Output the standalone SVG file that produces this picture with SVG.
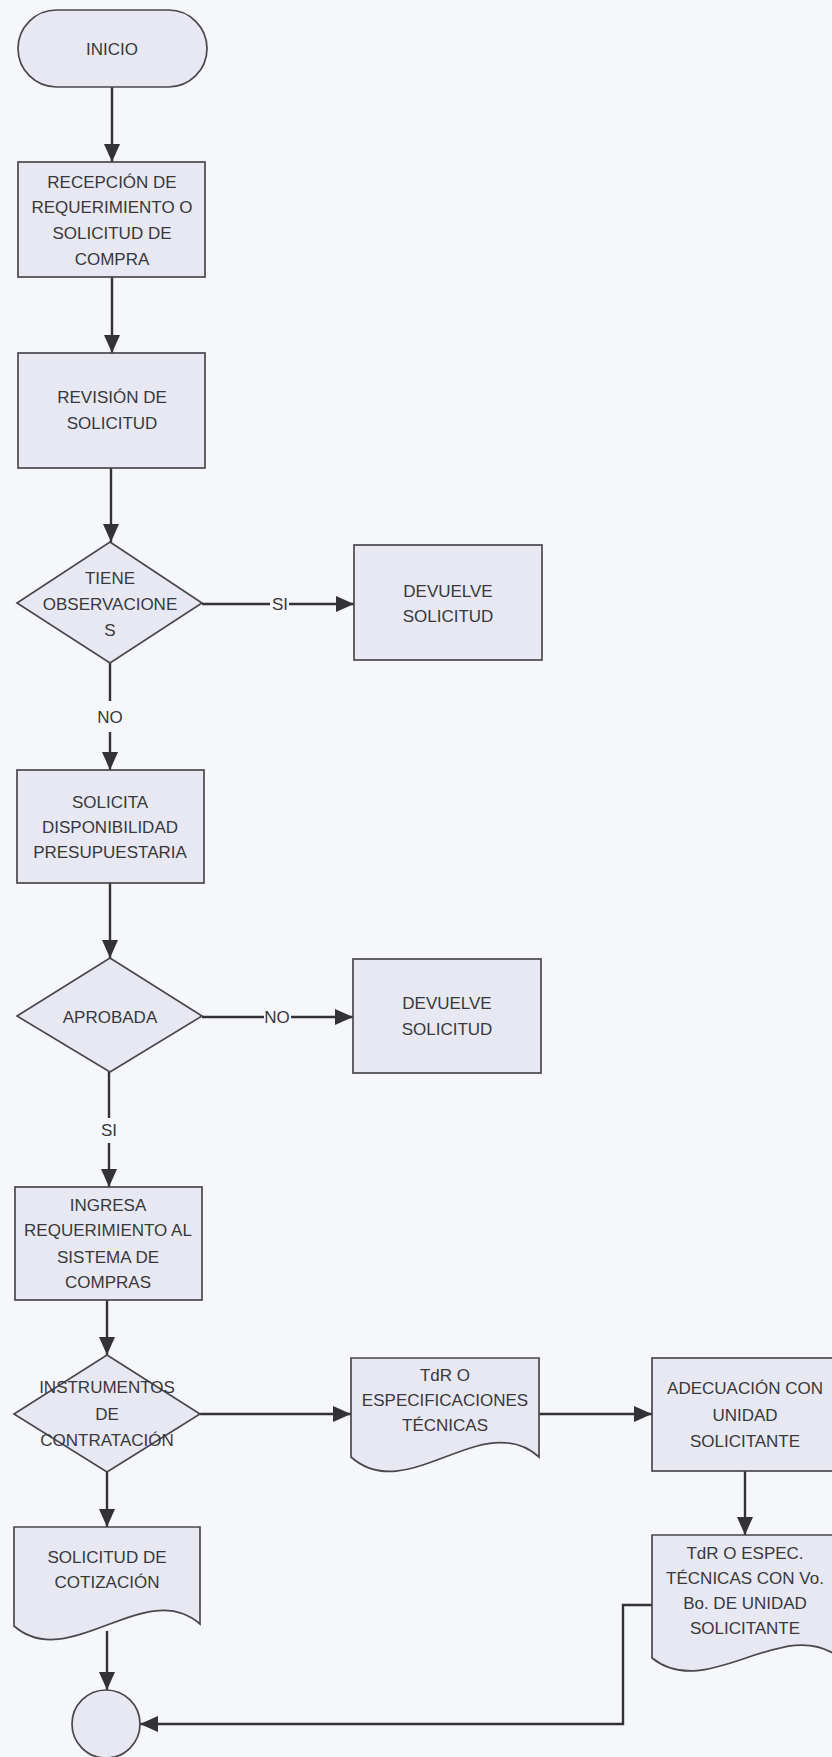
<svg xmlns="http://www.w3.org/2000/svg" width="832" height="1757" viewBox="0 0 832 1757">
  <style>
    .shape { fill: #e7e8f1; stroke: #48484d; stroke-width: 1.7; }
    .lbl { font-family: "Liberation Sans", Arial, sans-serif; font-size: 17px; fill: #38383c; text-anchor: middle; }
    .wire { fill: none; stroke: #333336; stroke-width: 2.4; }
    .arrow { marker-end: url(#head); }
  </style>
  <defs>
    <marker id="head" markerUnits="userSpaceOnUse" markerWidth="18" markerHeight="16" viewBox="0 0 18 16" refX="18" refY="8" orient="auto">
      <path d="M0,0 L18,8 L0,16 Z" fill="#333336"/>
    </marker>
  </defs>

  <rect x="0" y="0" width="832" height="1757" fill="#f6f7fb"/>

  <!-- connectors -->
  <g id="connectors">
    <line class="wire arrow" x1="112" y1="87" x2="112" y2="162"/>
    <line class="wire arrow" x1="112" y1="277" x2="112" y2="353"/>
    <line class="wire arrow" x1="111" y1="468" x2="111" y2="542"/>
    <!-- TIENE OBSERVACIONES: SI -->
    <line class="wire" x1="202" y1="604" x2="270" y2="604"/>
    <line class="wire arrow" x1="289" y1="604" x2="354" y2="604"/>
    <text class="lbl" x="280" y="610">SI</text>
    <!-- TIENE OBSERVACIONES: NO -->
    <line class="wire" x1="110" y1="663" x2="110" y2="701"/>
    <line class="wire arrow" x1="110" y1="732" x2="110" y2="770"/>
    <text class="lbl" x="110" y="723">NO</text>
    <line class="wire arrow" x1="110" y1="883" x2="110" y2="958"/>
    <!-- APROBADA: NO -->
    <line class="wire" x1="202" y1="1017" x2="264" y2="1017"/>
    <line class="wire arrow" x1="291" y1="1017" x2="353" y2="1017"/>
    <text class="lbl" x="277" y="1023">NO</text>
    <!-- APROBADA: SI -->
    <line class="wire" x1="109" y1="1072" x2="109" y2="1118"/>
    <line class="wire arrow" x1="109" y1="1143" x2="109" y2="1187"/>
    <text class="lbl" x="109" y="1136">SI</text>
    <line class="wire arrow" x1="107" y1="1300" x2="107" y2="1355"/>
    <line class="wire arrow" x1="200" y1="1414" x2="351" y2="1414"/>
    <line class="wire arrow" x1="539" y1="1414" x2="652" y2="1414"/>
    <line class="wire arrow" x1="745" y1="1471" x2="745" y2="1535"/>
    <line class="wire arrow" x1="107" y1="1472" x2="107" y2="1527"/>
    <line class="wire arrow" x1="107" y1="1631" x2="107" y2="1690"/>
    <polyline class="wire arrow" points="652,1605 623,1605 623,1724 140,1724"/>
  </g>

  <g id="inicio">
    <rect class="shape" x="18" y="10" width="189" height="77" rx="38.5"/>
    <text class="lbl" x="112" y="55">INICIO</text>
  </g>

  <g id="recepcion">
    <rect class="shape" x="18" y="162" width="187" height="115"/>
    <text class="lbl" x="112" y="188">RECEPCIÓN DE</text>
    <text class="lbl" x="112" y="213">REQUERIMIENTO O</text>
    <text class="lbl" x="112" y="239">SOLICITUD DE</text>
    <text class="lbl" x="112" y="265">COMPRA</text>
  </g>

  <g id="revision">
    <rect class="shape" x="18" y="353" width="187" height="115"/>
    <text class="lbl" x="112" y="403">REVISIÓN DE</text>
    <text class="lbl" x="112" y="429">SOLICITUD</text>
  </g>

  <g id="tiene-observaciones">
    <polygon class="shape" points="110,542 202,603 110,663 17,603"/>
    <text class="lbl" x="110" y="584">TIENE</text>
    <text class="lbl" x="110" y="610">OBSERVACIONE</text>
    <text class="lbl" x="110" y="636">S</text>
  </g>

  <g id="devuelve-1">
    <rect class="shape" x="354" y="545" width="188" height="115"/>
    <text class="lbl" x="448" y="597">DEVUELVE</text>
    <text class="lbl" x="448" y="622">SOLICITUD</text>
  </g>

  <g id="solicita-disponibilidad">
    <rect class="shape" x="17" y="770" width="187" height="113"/>
    <text class="lbl" x="110" y="808">SOLICITA</text>
    <text class="lbl" x="110" y="833">DISPONIBILIDAD</text>
    <text class="lbl" x="110" y="858">PRESUPUESTARIA</text>
  </g>

  <g id="aprobada">
    <polygon class="shape" points="110,958 202,1016 110,1072 17,1016"/>
    <text class="lbl" x="110" y="1023">APROBADA</text>
  </g>

  <g id="devuelve-2">
    <rect class="shape" x="353" y="959" width="188" height="114"/>
    <text class="lbl" x="447" y="1009">DEVUELVE</text>
    <text class="lbl" x="447" y="1035">SOLICITUD</text>
  </g>

  <g id="ingresa">
    <rect class="shape" x="15" y="1187" width="187" height="113"/>
    <text class="lbl" x="108" y="1211">INGRESA</text>
    <text class="lbl" x="108" y="1236">REQUERIMIENTO AL</text>
    <text class="lbl" x="108" y="1263">SISTEMA DE</text>
    <text class="lbl" x="108" y="1288">COMPRAS</text>
  </g>

  <g id="instrumentos">
    <polygon class="shape" points="107,1355 200,1414 107,1472 14,1414"/>
    <text class="lbl" x="107" y="1393">INSTRUMENTOS</text>
    <text class="lbl" x="107" y="1420">DE</text>
    <text class="lbl" x="107" y="1446">CONTRATACIÓN</text>
  </g>

  <g id="tdr-especificaciones">
    <path class="shape" d="M351,1358 H539 V1457 C483,1407 407,1507 351,1457 Z"/>
    <text class="lbl" x="445" y="1381">TdR O</text>
    <text class="lbl" x="445" y="1406">ESPECIFICACIONES</text>
    <text class="lbl" x="445" y="1431">TÉCNICAS</text>
  </g>

  <g id="adecuacion">
    <rect class="shape" x="652" y="1358" width="188" height="113"/>
    <text class="lbl" x="745" y="1394">ADECUACIÓN CON</text>
    <text class="lbl" x="745" y="1421">UNIDAD</text>
    <text class="lbl" x="745" y="1447">SOLICITANTE</text>
  </g>

  <g id="tdr-vobo">
    <path class="shape" d="M652,1535 H840 V1658 C784,1613 708,1703 652,1658 Z"/>
    <text class="lbl" x="745" y="1559">TdR O ESPEC.</text>
    <text class="lbl" x="745" y="1584">TÉCNICAS CON Vo.</text>
    <text class="lbl" x="745" y="1609">Bo. DE UNIDAD</text>
    <text class="lbl" x="745" y="1634">SOLICITANTE</text>
  </g>

  <g id="solicitud-cotizacion">
    <path class="shape" d="M14,1527 H200 V1624 C145,1576 69,1674 14,1626 Z"/>
    <text class="lbl" x="107" y="1563">SOLICITUD DE</text>
    <text class="lbl" x="107" y="1588">COTIZACIÓN</text>
  </g>

  <g id="conector-fin">
    <circle class="shape" cx="106" cy="1724" r="34"/>
  </g>
</svg>
